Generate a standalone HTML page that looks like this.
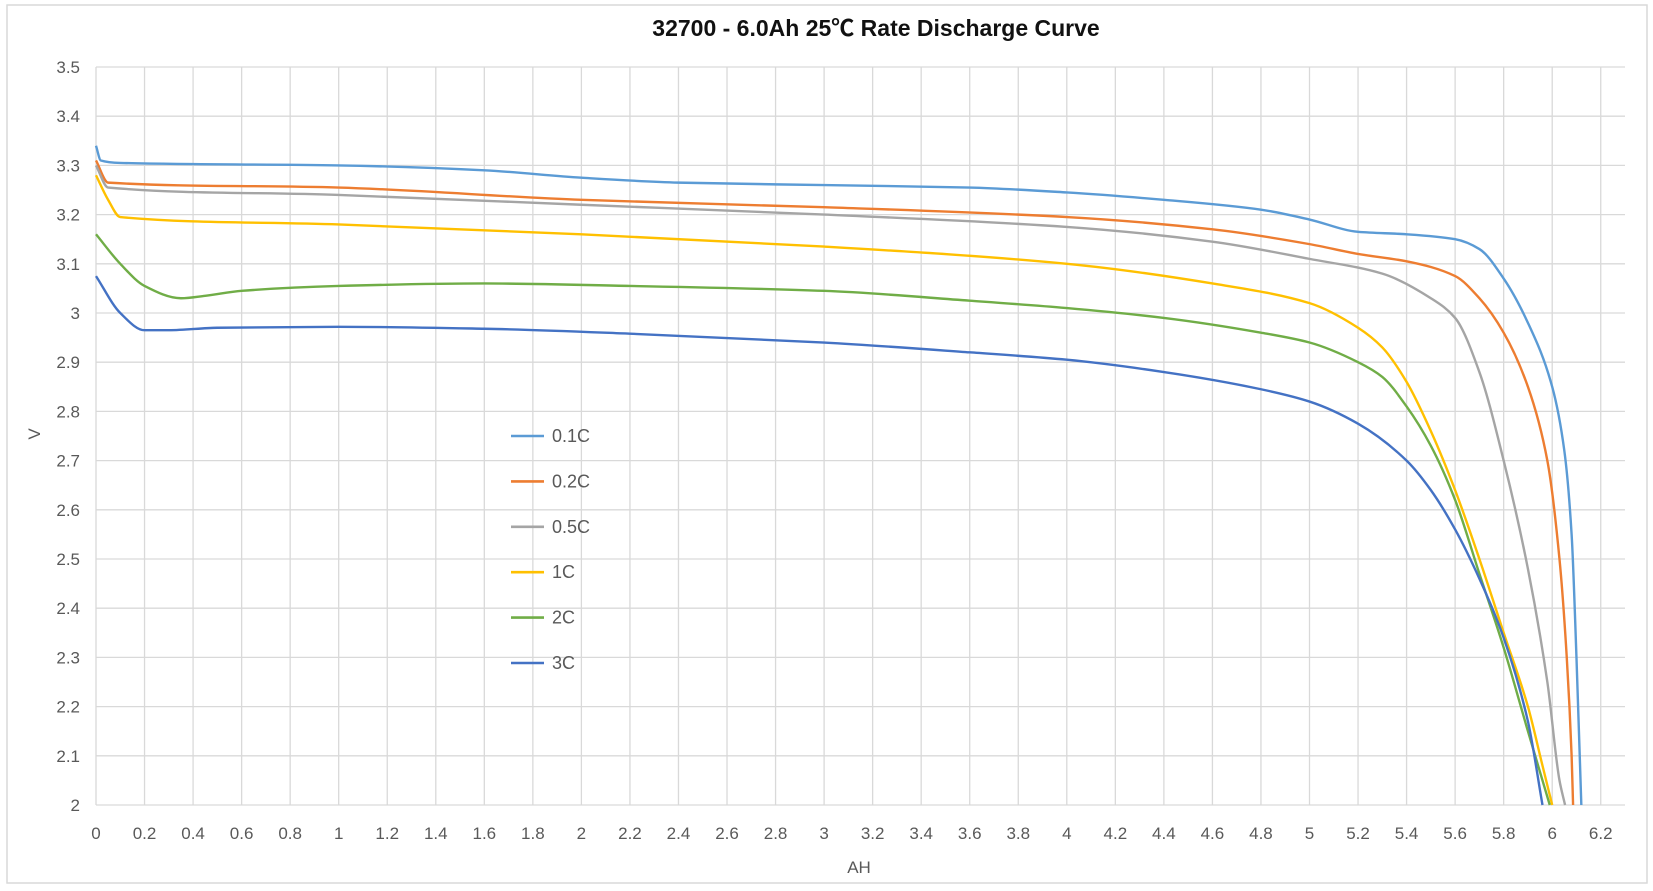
<!DOCTYPE html>
<html><head><meta charset="utf-8"><style>
html,body{margin:0;padding:0;background:#fff;width:1653px;height:891px;overflow:hidden}
svg{display:block}
text{font-family:"Liberation Sans","Noto Sans CJK SC",sans-serif}
</style></head><body>
<svg id="s" width="1653" height="891" xmlns="http://www.w3.org/2000/svg">
<rect x="7" y="5" width="1640" height="878" fill="#fff" stroke="#d9d9d9" stroke-width="1.5"/>
<text x="876" y="36" text-anchor="middle" font-size="23" font-weight="bold" fill="#111">32700 - 6.0Ah 25℃ Rate Discharge Curve</text>
<g id="grid"></g>
<g id="curves"></g>
<text x="859" y="873" text-anchor="middle" font-size="17" fill="#595959">AH</text>
<text x="40" y="434" text-anchor="middle" font-size="17" fill="#595959" transform="rotate(-90 40 434)">V</text>
<g id="legend" font-size="18" fill="#595959"></g>
</svg>
<script>
var NS="http://www.w3.org/2000/svg";
function X(a){return 96+a*242.7;}
function Y(v){return 805-(v-2)*492;}
function el(t,at,p,txt){var e=document.createElementNS(NS,t);for(var k in at)e.setAttribute(k,at[k]);if(txt!==undefined)e.textContent=txt;p.appendChild(e);return e;}
var g=document.getElementById('grid');
for(var i=0;i<=15;i++){var v=2+i*0.1,y=Y(v);
 el('line',{x1:96,x2:1625,y1:y,y2:y,stroke:'#d9d9d9','stroke-width':1.3},g);
 el('text',{x:80,y:y+6,'text-anchor':'end','font-size':17,fill:'#595959'},g,(Math.round(v*10)/10).toString());}
for(var j=0;j<=31;j++){var a=j*0.2,x=X(a);
 el('line',{x1:x,x2:x,y1:67,y2:805,stroke:'#d9d9d9','stroke-width':1.3},g);
 el('text',{x:x,y:839,'text-anchor':'middle','font-size':17,fill:'#595959'},g,(Math.round(a*10)/10).toString());}
var D=[
['0.1C','#5b9bd5',[[0,3.34],[0.02,3.31],[0.1,3.305],[1,3.3],[1.6,3.29],[2,3.275],[2.4,3.265],[3,3.26],[3.6,3.255],[4,3.245],[4.4,3.23],[4.8,3.21],[5,3.19],[5.2,3.165],[5.4,3.16],[5.6,3.15],[5.7,3.13],[5.8,3.07],[5.9,2.98],[6.0,2.85],[6.05,2.72],[6.08,2.55],[6.1,2.3],[6.12,2.0]]],
['0.2C','#ed7d31',[[0,3.31],[0.05,3.265],[1,3.255],[2,3.23],[3,3.215],[4,3.195],[4.6,3.17],[5,3.14],[5.2,3.12],[5.4,3.105],[5.6,3.075],[5.7,3.03],[5.8,2.96],[5.9,2.85],[5.98,2.7],[6.03,2.5],[6.06,2.3],[6.08,2.1],[6.086,2.0]]],
['0.5C','#a5a5a5',[[0,3.3],[0.05,3.255],[1,3.24],[2,3.22],[3,3.2],[4,3.175],[4.6,3.145],[5,3.11],[5.3,3.08],[5.5,3.03],[5.6,2.99],[5.7,2.88],[5.8,2.7],[5.9,2.48],[5.98,2.25],[6.03,2.05],[6.053,2.0]]],
['1C','#ffc000',[[0,3.28],[0.05,3.23],[0.1,3.195],[1,3.18],[2,3.16],[3,3.135],[4,3.1],[4.6,3.06],[5,3.02],[5.2,2.97],[5.3,2.93],[5.4,2.86],[5.5,2.76],[5.6,2.64],[5.7,2.5],[5.8,2.35],[5.9,2.2],[5.96,2.08],[6.0,2.0]]],
['2C','#70ad47',[[0,3.16],[0.1,3.1],[0.2,3.055],[0.35,3.03],[0.45,3.035],[0.6,3.045],[1,3.055],[1.6,3.06],[2.2,3.055],[3,3.045],[3.6,3.025],[4,3.01],[4.4,2.99],[4.8,2.96],[5,2.94],[5.2,2.9],[5.3,2.87],[5.4,2.81],[5.5,2.73],[5.6,2.62],[5.7,2.47],[5.8,2.32],[5.9,2.15],[5.99,2.0]]],
['3C','#4472c4',[[0,3.075],[0.1,3.0],[0.2,2.965],[0.3,2.965],[0.5,2.97],[1,2.972],[1.6,2.968],[2.2,2.958],[3,2.94],[3.6,2.92],[4,2.905],[4.4,2.88],[4.8,2.845],[5,2.82],[5.2,2.775],[5.4,2.7],[5.5,2.64],[5.6,2.56],[5.7,2.46],[5.8,2.34],[5.9,2.17],[5.96,2.0]]]
];
function mono(p){
 var n=p.length,dx=[],m=[],t=[];
 for(var i=0;i<n-1;i++){dx[i]=p[i+1][0]-p[i][0];m[i]=(p[i+1][1]-p[i][1])/dx[i];}
 t[0]=m[0];t[n-1]=m[n-2];
 for(var i=1;i<n-1;i++){
  if(m[i-1]*m[i]<=0)t[i]=0;
  else{var w1=2*dx[i]+dx[i-1],w2=dx[i]+2*dx[i-1];t[i]=(w1+w2)/(w1/m[i-1]+w2/m[i]);}
 }
 var d='M'+p[0][0]+','+p[0][1];
 for(var i=0;i<n-1;i++){var h=dx[i]/3;
  d+=' C'+(p[i][0]+h)+','+(p[i][1]+t[i]*h)+' '+(p[i+1][0]-h)+','+(p[i+1][1]-t[i+1]*h)+' '+p[i+1][0]+','+p[i+1][1];}
 return d;
}
var c=document.getElementById('curves'),L=document.getElementById('legend');
D.forEach(function(s,k){
 var p=s[2].map(function(q){return [X(q[0]),Y(q[1])];});
 el('path',{d:mono(p),fill:'none',stroke:s[1],'stroke-width':2.4,'stroke-linejoin':'round'},c);
 var ly=436+k*45.4;
 el('line',{x1:511,x2:544,y1:ly,y2:ly,stroke:s[1],'stroke-width':2.6},L);
 el('text',{x:552,y:ly+6,'font-size':18,fill:'#595959'},L,s[0]);
});
</script>
</body></html>
